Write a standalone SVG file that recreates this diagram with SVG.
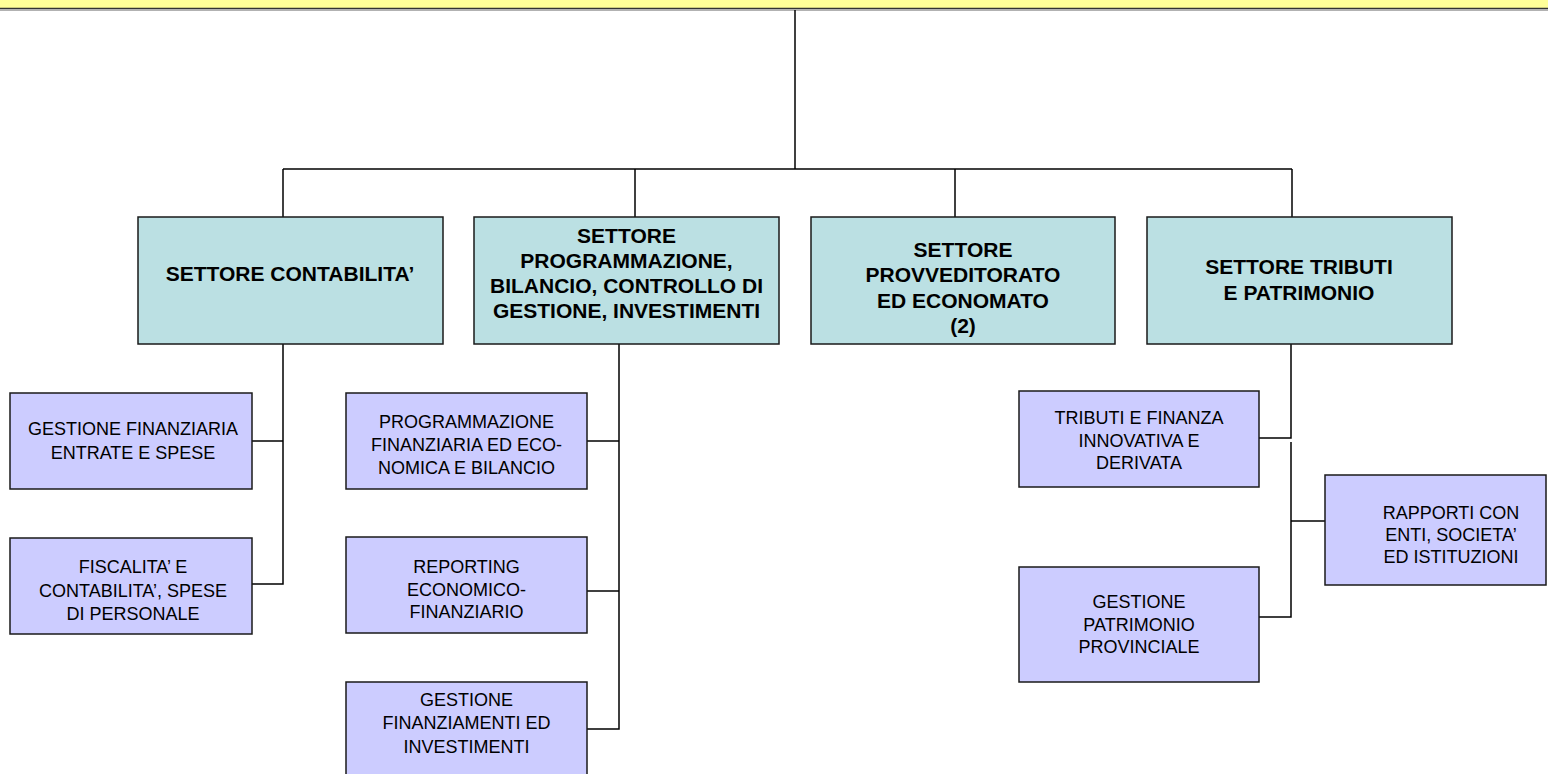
<svg xmlns="http://www.w3.org/2000/svg" width="1548" height="774" viewBox="0 0 1548 774">
<style>
.l1{fill:#BBE0E3;stroke:#1a1a1a;stroke-width:1.5}
.l2{fill:#CCCCFF;stroke:#1a1a1a;stroke-width:1.5}
.tb{font-family:"Liberation Sans",Arial,sans-serif;font-weight:bold;font-size:21px;fill:#000;text-anchor:middle}
.tr{font-family:"Liberation Sans",Arial,sans-serif;font-size:18px;fill:#000;text-anchor:middle}
.c{stroke:#000;stroke-width:1.5;fill:none}
</style>
<rect x="0" y="0" width="1548" height="8.5" fill="#FFFF99"/>
<line x1="0" y1="8.5" x2="1548" y2="8.5" stroke="#333" stroke-width="1.5"/>
<line x1="0" y1="10.2" x2="1548" y2="10.2" stroke="#999" stroke-width="1.2"/>
<g id="connectors">
<line class="c" x1="795" y1="10" x2="795" y2="169"/>
<line class="c" x1="283" y1="169" x2="1292" y2="169"/>
<line class="c" x1="283" y1="169" x2="283" y2="217"/>
<line class="c" x1="635" y1="169" x2="635" y2="217"/>
<line class="c" x1="955" y1="169" x2="955" y2="217"/>
<line class="c" x1="1292" y1="169" x2="1292" y2="217"/>
<polyline class="c" points="283,344 283,584 252,584"/>
<line class="c" x1="252" y1="441" x2="283" y2="441"/>
<polyline class="c" points="619,344 619,729 587,729"/>
<line class="c" x1="587" y1="441" x2="619" y2="441"/>
<line class="c" x1="587" y1="591" x2="619" y2="591"/>
<polyline class="c" points="1291,344 1291,438 1259,438"/>
<polyline class="c" points="1291,442 1291,617 1259,617"/>
<line class="c" x1="1291" y1="521" x2="1325" y2="521"/>
</g>
<g id="n1"><rect class="l1" x="138" y="217" width="305" height="127"/>
<text class="tb" x="290" y="281">SETTORE CONTABILITA’</text></g>
<g id="n2"><rect class="l1" x="474" y="217" width="305" height="127"/>
<text class="tb" x="626.5" y="243">SETTORE</text>
<text class="tb" x="626.5" y="268">PROGRAMMAZIONE,</text>
<text class="tb" x="626.5" y="293">BILANCIO, CONTROLLO DI</text>
<text class="tb" x="626.5" y="318">GESTIONE, INVESTIMENTI</text></g>
<g id="n3"><rect class="l1" x="811" y="217" width="304" height="127"/>
<text class="tb" x="963" y="257">SETTORE</text>
<text class="tb" x="963" y="282">PROVVEDITORATO</text>
<text class="tb" x="963" y="307.5">ED ECONOMATO</text>
<text class="tb" x="963" y="333">(2)</text></g>
<g id="n4"><rect class="l1" x="1147" y="217" width="305" height="127"/>
<text class="tb" x="1299" y="274">SETTORE TRIBUTI</text>
<text class="tb" x="1299" y="299.5">E PATRIMONIO</text></g>
<g id="s1"><rect class="l2" x="10" y="393" width="242" height="96"/>
<text class="tr" x="133" y="435">GESTIONE FINANZIARIA</text>
<text class="tr" x="133" y="459">ENTRATE E SPESE</text></g>
<g id="s2"><rect class="l2" x="10" y="538" width="242" height="96"/>
<text class="tr" x="133" y="573">FISCALITA’ E</text>
<text class="tr" x="133" y="597">CONTABILITA’, SPESE</text>
<text class="tr" x="133" y="620">DI PERSONALE</text></g>
<g id="s3"><rect class="l2" x="346" y="393" width="241" height="96"/>
<text class="tr" x="466.5" y="428">PROGRAMMAZIONE</text>
<text class="tr" x="466.5" y="451">FINANZIARIA ED ECO-</text>
<text class="tr" x="466.5" y="474">NOMICA E BILANCIO</text></g>
<g id="s4"><rect class="l2" x="346" y="537" width="241" height="96"/>
<text class="tr" x="466.5" y="573">REPORTING</text>
<text class="tr" x="466.5" y="596">ECONOMICO-</text>
<text class="tr" x="466.5" y="618">FINANZIARIO</text></g>
<g id="s5"><rect class="l2" x="346" y="682" width="241" height="96"/>
<text class="tr" x="466.5" y="706">GESTIONE</text>
<text class="tr" x="466.5" y="729">FINANZIAMENTI ED</text>
<text class="tr" x="466.5" y="753">INVESTIMENTI</text></g>
<g id="s6"><rect class="l2" x="1019" y="391" width="240" height="96"/>
<text class="tr" x="1139" y="424">TRIBUTI E FINANZA</text>
<text class="tr" x="1139" y="447">INNOVATIVA E</text>
<text class="tr" x="1139" y="469">DERIVATA</text></g>
<g id="s7"><rect class="l2" x="1019" y="567" width="240" height="115"/>
<text class="tr" x="1139" y="608">GESTIONE</text>
<text class="tr" x="1139" y="631">PATRIMONIO</text>
<text class="tr" x="1139" y="653">PROVINCIALE</text></g>
<g id="s8"><rect class="l2" x="1325" y="475" width="221" height="110"/>
<text class="tr" x="1451" y="519">RAPPORTI CON</text>
<text class="tr" x="1451" y="541">ENTI, SOCIETA’</text>
<text class="tr" x="1451" y="563">ED ISTITUZIONI</text></g>
</svg>
